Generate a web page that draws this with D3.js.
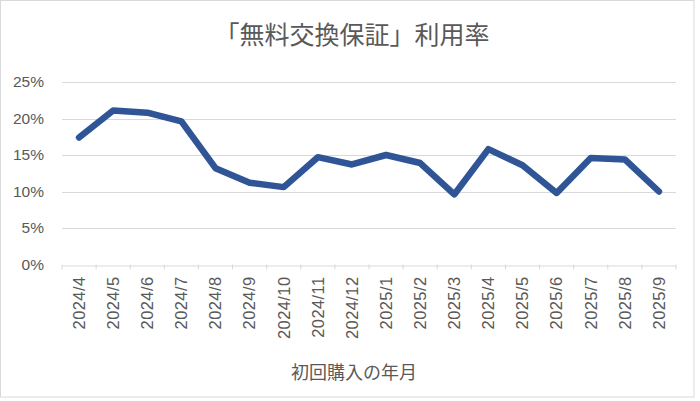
<!DOCTYPE html>
<html><head><meta charset="utf-8">
<script src="https://cdn.jsdelivr.net/npm/d3@7"></script>
<style>body{margin:0;background:#fff}svg{display:block}</style>
</head><body>
<script>
const categories = ["2024/4","2024/5","2024/6","2024/7","2024/8","2024/9","2024/10","2024/11","2024/12","2025/1","2025/2","2025/3","2025/4","2025/5","2025/6","2025/7","2025/8","2025/9"];
const values = [0.174,0.211,0.208,0.196,0.132,0.112,0.106,0.147,0.137,0.150,0.139,0.096,0.158,0.136,0.098,0.146,0.144,0.100];
const yTicks = [0,0.05,0.10,0.15,0.20,0.25];
const title = "「無料交換保証」利用率";
const xTitle = "初回購入の年月";

const W=700,H=401;
const font = "'Noto Sans CJK JP','Noto Sans',sans-serif";
const numFont = "'Liberation Sans',Arial,sans-serif";
const svg = d3.select("body").append("svg").attr("width",W).attr("height",H);
svg.append("rect").attr("x",0.5).attr("y",0.5).attr("width",693.5).attr("height",396.5).attr("fill","#fff").attr("stroke","#d9d9d9");

const x = d3.scaleBand().domain(categories).range([62,676]);
const y = d3.scaleLinear().domain([0,0.25]).range([264.5,82]);

svg.append("g").selectAll("line").data(yTicks.slice(1)).join("line")
  .attr("x1",62).attr("x2",676).attr("y1",d=>Math.round(y(d))+0.5).attr("y2",d=>Math.round(y(d))+0.5)
  .attr("stroke","#d9d9d9").attr("stroke-width",1);

const yAxis = d3.axisLeft(y).tickValues(yTicks).tickFormat(d3.format(".0%")).tickSize(0).tickPadding(18);
const gy = svg.append("g").attr("transform","translate(62,0)").call(yAxis);
gy.select(".domain").remove();
gy.selectAll("text").attr("fill","#595959").style("font-family",numFont).style("font-size","15.5px");

const xAxis = d3.axisBottom(x).tickSize(0);
const gx = svg.append("g").attr("transform",`translate(0,${Math.round(y(0))+0.5})`).call(xAxis);
gx.select(".domain").attr("stroke","#d9d9d9");
gx.selectAll("text").attr("fill","#595959").style("font-family",numFont).style("font-size","16.5px")
  .style("letter-spacing","0.4px")
  .attr("transform","rotate(-90)").attr("text-anchor","end").attr("x",-11).attr("y",0).attr("dy","0.35em");
// boundary tick marks
svg.append("g").selectAll("line").data(categories.concat([null])).join("line")
  .attr("x1",(d,i)=>62+i*x.step()).attr("x2",(d,i)=>62+i*x.step())
  .attr("y1",y(0)).attr("y2",y(0)+5).attr("stroke","#d9d9d9");

const line = d3.line().x((d,i)=>x(categories[i])+x.bandwidth()/2).y(d=>y(d));
svg.append("path").datum(values).attr("d",line).attr("fill","none")
  .attr("stroke","#2F5597").attr("stroke-width",6.5).attr("stroke-linejoin","round").attr("stroke-linecap","round");

svg.append("text").attr("x",352).attr("y",44).attr("text-anchor","middle").attr("fill","#595959")
  .style("font-family",font).style("font-size","25px").text(title);
svg.append("text").attr("x",354).attr("y",379).attr("text-anchor","middle").attr("fill","#595959")
  .style("font-family",font).style("font-size","18px").text(xTitle);
</script>
</body></html>
